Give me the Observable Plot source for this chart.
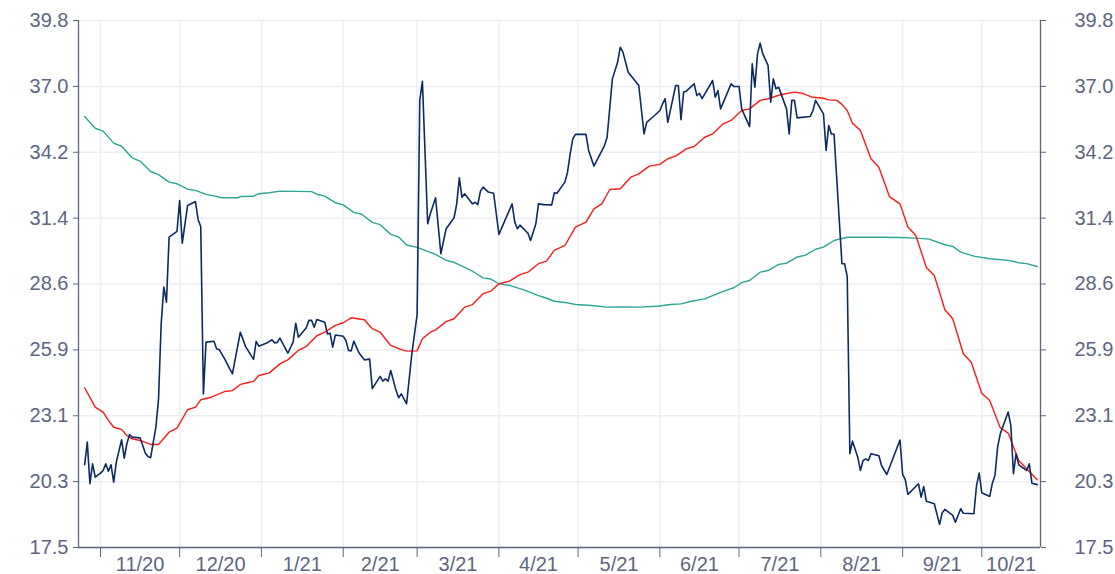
<!DOCTYPE html>
<html>
<head>
<meta charset="utf-8">
<script src="https://cdn.jsdelivr.net/npm/d3@7"></script>
<script src="https://cdn.jsdelivr.net/npm/@observablehq/plot@0.6"></script>
<style>
  html, body { margin: 0; padding: 0; background: #ffffff; }
  #chart { width: 1115px; height: 574px; overflow: hidden; }
</style>
</head>
<body>
<div id="chart"></div>
<script>
// ---- Data ----
const priceDates = ["2020-10-26","2020-10-27","2020-10-28","2020-10-29","2020-10-30","2020-11-01","2020-11-02","2020-11-03","2020-11-04","2020-11-05","2020-11-06","2020-11-07","2020-11-09","2020-11-10","2020-11-11","2020-11-12","2020-11-13","2020-11-16","2020-11-17","2020-11-18","2020-11-19","2020-11-20","2020-11-22","2020-11-23","2020-11-24","2020-11-25","2020-11-26","2020-11-27","2020-11-30","2020-12-01","2020-12-02","2020-12-04","2020-12-07","2020-12-08","2020-12-09","2020-12-10","2020-12-11","2020-12-14","2020-12-15","2020-12-16","2020-12-18","2020-12-21","2020-12-24","2020-12-26","2020-12-29","2020-12-30","2020-12-31","2021-01-03","2021-01-05","2021-01-06","2021-01-07","2021-01-08","2021-01-11","2021-01-13","2021-01-14","2021-01-15","2021-01-18","2021-01-19","2021-01-20","2021-01-21","2021-01-22","2021-01-25","2021-01-26","2021-01-27","2021-01-28","2021-01-29","2021-02-01","2021-02-02","2021-02-03","2021-02-04","2021-02-05","2021-02-07","2021-02-09","2021-02-11","2021-02-12","2021-02-15","2021-02-16","2021-02-17","2021-02-18","2021-02-19","2021-02-21","2021-02-22","2021-02-23","2021-02-25","2021-02-27","2021-03-01","2021-03-02","2021-03-03","2021-03-05","2021-03-06","2021-03-08","2021-03-10","2021-03-12","2021-03-15","2021-03-16","2021-03-17","2021-03-18","2021-03-19","2021-03-22","2021-03-23","2021-03-24","2021-03-25","2021-03-26","2021-03-28","2021-03-30","2021-04-01","2021-04-06","2021-04-07","2021-04-08","2021-04-09","2021-04-12","2021-04-13","2021-04-15","2021-04-16","2021-04-18","2021-04-21","2021-04-22","2021-04-23","2021-04-26","2021-04-27","2021-04-28","2021-04-29","2021-04-30","2021-05-04","2021-05-05","2021-05-07","2021-05-11","2021-05-12","2021-05-14","2021-05-16","2021-05-17","2021-05-18","2021-05-20","2021-05-24","2021-05-26","2021-05-27","2021-05-30","2021-06-01","2021-06-02","2021-06-03","2021-06-04","2021-06-07","2021-06-08","2021-06-09","2021-06-10","2021-06-11","2021-06-14","2021-06-15","2021-06-16","2021-06-17","2021-06-21","2021-06-22","2021-06-23","2021-06-24","2021-06-28","2021-06-29","2021-07-01","2021-07-02","2021-07-05","2021-07-06","2021-07-07","2021-07-08","2021-07-09","2021-07-10","2021-07-12","2021-07-13","2021-07-14","2021-07-15","2021-07-16","2021-07-19","2021-07-20","2021-07-21","2021-07-22","2021-07-23","2021-07-28","2021-07-29","2021-07-30","2021-08-02","2021-08-03","2021-08-04","2021-08-05","2021-08-06","2021-08-09","2021-08-10","2021-08-11","2021-08-12","2021-08-13","2021-08-15","2021-08-16","2021-08-17","2021-08-18","2021-08-19","2021-08-20","2021-08-23","2021-08-24","2021-08-26","2021-08-31","2021-09-01","2021-09-02","2021-09-03","2021-09-07","2021-09-08","2021-09-09","2021-09-10","2021-09-13","2021-09-15","2021-09-16","2021-09-17","2021-09-20","2021-09-21","2021-09-23","2021-09-24","2021-09-28","2021-09-29","2021-09-30","2021-10-01","2021-10-04","2021-10-05","2021-10-06","2021-10-07","2021-10-08","2021-10-11","2021-10-12","2021-10-13","2021-10-14","2021-10-15","2021-10-18","2021-10-19","2021-10-20","2021-10-22"];
const priceValues = [21.0,21.96,20.2,21.04,20.48,20.65,20.76,21.04,20.73,21.0,20.27,21.11,22.06,21.28,21.89,22.28,22.17,22.14,21.82,21.49,21.35,21.3,22.59,23.79,26.97,28.52,27.88,30.63,30.88,32.18,30.38,31.97,32.14,31.37,31.08,24.0,26.19,26.23,25.91,25.87,25.49,24.85,26.61,26.0,25.46,26.22,26.02,26.15,26.29,26.16,26.18,26.36,25.72,26.19,26.99,26.4,26.8,27.11,27.11,26.82,27.15,27.03,26.54,26.57,25.98,26.49,26.44,26.26,25.84,25.82,26.23,25.73,25.44,25.47,24.22,24.74,24.54,24.64,24.54,24.99,24.15,23.84,24.0,23.58,25.7,27.36,36.42,37.23,31.2,31.62,32.3,29.93,30.99,31.45,32.04,33.14,32.32,32.47,32.04,32.11,32.01,32.58,32.75,32.54,32.49,30.75,32.04,31.27,30.99,31.14,30.8,30.49,31.2,32.04,32.01,32.0,32.51,32.49,32.96,33.38,34.16,34.79,34.98,34.98,34.3,33.64,34.51,34.86,37.33,38.04,38.67,38.46,37.61,37.05,35.0,35.49,35.78,35.99,36.27,36.49,35.49,37.05,37.05,35.6,36.77,36.81,37.12,36.63,36.72,36.49,37.26,36.55,36.84,36.06,37.12,37.01,37.01,36.06,35.31,37.97,36.98,38.39,38.84,38.39,37.9,36.34,37.33,36.91,36.98,36.06,35.0,36.42,36.42,35.68,35.74,35.99,36.42,35.85,34.3,35.36,35.0,35.0,29.51,29.51,28.97,21.47,22.0,21.32,20.76,21.18,21.25,21.18,21.47,21.38,20.97,20.59,22.05,20.59,20.37,19.75,20.2,19.63,20.08,19.46,19.35,18.48,18.97,19.11,18.86,18.57,19.14,18.95,18.93,20.12,20.65,19.82,19.66,20.22,20.55,21.75,22.31,23.23,22.67,20.62,21.47,21.0,20.76,21.04,20.22,20.16];

const shortAvgDates = ["2020-10-26","2020-10-30","2020-11-02","2020-11-04","2020-11-06","2020-11-09","2020-11-11","2020-11-13","2020-11-16","2020-11-20","2020-11-23","2020-11-27","2020-11-30","2020-12-04","2020-12-07","2020-12-09","2020-12-13","2020-12-18","2020-12-21","2020-12-24","2020-12-27","2020-12-29","2020-12-31","2021-01-04","2021-01-08","2021-01-11","2021-01-15","2021-01-18","2021-01-22","2021-01-25","2021-01-29","2021-02-01","2021-02-04","2021-02-09","2021-02-12","2021-02-15","2021-02-19","2021-02-23","2021-02-25","2021-03-01","2021-03-03","2021-03-06","2021-03-08","2021-03-12","2021-03-15","2021-03-19","2021-03-22","2021-03-26","2021-03-29","2021-04-01","2021-04-05","2021-04-09","2021-04-12","2021-04-16","2021-04-19","2021-04-22","2021-04-26","2021-04-30","2021-05-04","2021-05-07","2021-05-10","2021-05-13","2021-05-17","2021-05-21","2021-05-24","2021-05-28","2021-06-01","2021-06-04","2021-06-07","2021-06-11","2021-06-14","2021-06-18","2021-06-21","2021-06-25","2021-06-28","2021-07-02","2021-07-05","2021-07-09","2021-07-12","2021-07-17","2021-07-22","2021-07-25","2021-07-29","2021-08-02","2021-08-04","2021-08-07","2021-08-09","2021-08-11","2021-08-13","2021-08-16","2021-08-20","2021-08-23","2021-08-27","2021-08-31","2021-09-03","2021-09-06","2021-09-10","2021-09-13","2021-09-15","2021-09-17","2021-09-20","2021-09-24","2021-09-27","2021-10-01","2021-10-04","2021-10-08","2021-10-11","2021-10-15","2021-10-18","2021-10-21","2021-10-22"];
const shortAvgValues = [24.26,23.44,23.23,22.88,22.59,22.5,22.24,22.1,22.03,21.86,21.86,22.38,22.55,23.33,23.44,23.75,23.86,24.1,24.14,24.4,24.48,24.53,24.78,24.89,25.27,25.44,25.84,26.01,26.46,26.61,26.9,27.01,27.22,27.14,26.76,26.61,26.05,25.87,25.81,25.82,26.33,26.61,26.71,27.06,27.18,27.67,27.78,28.24,28.35,28.66,28.77,29.05,29.15,29.51,29.62,30.07,30.28,31.06,31.27,31.83,32.04,32.65,32.68,33.17,33.31,33.64,33.71,33.95,34.06,34.37,34.47,34.86,35.0,35.43,35.57,35.99,36.06,36.42,36.49,36.67,36.77,36.72,36.55,36.51,36.44,36.42,36.25,35.99,35.45,35.15,33.95,33.59,32.35,32.04,31.06,30.7,29.35,29.01,28.3,27.56,27.18,25.7,25.34,24.03,23.72,22.57,22.34,21.18,20.83,20.48,20.37];

const longAvgDates = ["2020-10-26","2020-10-30","2020-11-02","2020-11-06","2020-11-09","2020-11-13","2020-11-16","2020-11-20","2020-11-23","2020-11-27","2020-11-30","2020-12-04","2020-12-07","2020-12-11","2020-12-14","2020-12-17","2020-12-23","2020-12-24","2020-12-29","2020-12-31","2021-01-04","2021-01-08","2021-01-20","2021-01-22","2021-01-25","2021-01-29","2021-02-01","2021-02-05","2021-02-08","2021-02-12","2021-02-15","2021-02-19","2021-02-22","2021-02-25","2021-03-01","2021-03-06","2021-03-08","2021-03-12","2021-03-15","2021-03-20","2021-03-22","2021-03-26","2021-03-29","2021-04-01","2021-04-05","2021-04-11","2021-04-16","2021-04-18","2021-04-22","2021-04-26","2021-04-30","2021-05-06","2021-05-12","2021-05-18","2021-05-24","2021-05-31","2021-06-05","2021-06-09","2021-06-13","2021-06-18","2021-06-21","2021-06-25","2021-06-29","2021-07-02","2021-07-05","2021-07-09","2021-07-12","2021-07-16","2021-07-19","2021-07-23","2021-07-26","2021-07-30","2021-08-02","2021-08-06","2021-08-08","2021-08-11","2021-08-23","2021-08-31","2021-09-06","2021-09-11","2021-09-17","2021-09-20","2021-09-23","2021-09-28","2021-10-04","2021-10-11","2021-10-15","2021-10-18","2021-10-22"];
const longAvgValues = [35.74,35.24,35.12,34.61,34.48,33.99,33.85,33.41,33.28,32.96,32.89,32.66,32.61,32.44,32.38,32.3,32.3,32.35,32.36,32.47,32.51,32.58,32.56,32.45,32.37,32.09,32.0,31.68,31.6,31.26,31.16,30.75,30.64,30.3,30.2,29.99,29.9,29.65,29.57,29.3,29.19,28.91,28.86,28.66,28.59,28.38,28.16,28.09,27.92,27.87,27.78,27.74,27.67,27.68,27.67,27.71,27.78,27.81,27.92,28.02,28.16,28.34,28.49,28.71,28.8,29.15,29.22,29.48,29.53,29.79,29.86,30.12,30.21,30.49,30.55,30.63,30.63,30.62,30.59,30.55,30.31,30.24,30.0,29.83,29.72,29.65,29.55,29.51,29.39];

const monthStarts = ["2020-11-01","2020-12-01","2021-01-01","2021-02-01","2021-03-01","2021-04-01","2021-05-01","2021-06-01","2021-07-01","2021-08-01","2021-09-01","2021-10-01"];
const monthLabels = ["11/20","12/20","1/21","2/21","3/21","4/21","5/21","6/21","7/21","8/21","9/21","10/21"];
const yTickValues = [17.5, 20.2875, 23.075, 25.8625, 28.65, 31.4375, 34.225, 37.0125, 39.8];
const yTickLabels = ["17.5","20.3","23.1","25.9","28.6","31.4","34.2","37.0","39.8"];
const xDomain = ["2020-10-23T16:00Z", "2021-10-23T06:00Z"];

// ---- Build tables ----
const toRows = (dates, values) => dates.map((d, i) => ({date: new Date(d), value: values[i]}));
const price = toRows(priceDates, priceValues);
const shortAvg = toRows(shortAvgDates, shortAvgValues);
const longAvg = toRows(longAvgDates, longAvgValues);
const xDom = xDomain.map(d => new Date(d));
const monthDates = monthStarts.map(d => new Date(d));
const labelRows = monthLabels.map((label, i) => {
  const a = monthDates[i];
  const b = i + 1 < monthDates.length ? monthDates[i + 1] : xDom[1];
  return {label, date: new Date((+a + +b) / 2)};
});
const yLabel = v => yTickLabels[yTickValues.indexOf(v)];

const axisColor = "#5e6580";
const gridColor = "#eceef5";

const chart = Plot.plot({
  width: 1115,
  height: 574,
  marginLeft: 78,
  marginRight: 75,
  marginTop: 20,
  marginBottom: 27,
  x: {type: "utc", domain: xDom},
  y: {domain: [17.5, 39.8]},
  style: {
    fontFamily: "'Liberation Sans', Arial, Helvetica, sans-serif",
    fontSize: "20px",
    color: axisColor,
    background: "#ffffff",
    overflow: "visible"
  },
  marks: [
    Plot.gridY(yTickValues, {stroke: gridColor, strokeOpacity: 1, strokeWidth: 1.5}),
    Plot.gridX(monthDates, {stroke: gridColor, strokeOpacity: 1, strokeWidth: 1.5}),
    Plot.axisY(yTickValues, {anchor: "left", tickSize: 5, tickPadding: 5, tickFormat: yLabel, label: null, fontSize: 20}),
    Plot.axisY(yTickValues, {anchor: "right", tickSize: 5, tickPadding: 29, tickFormat: yLabel, textAnchor: "start", label: null, fontSize: 20}),
    Plot.axisX(monthDates, {tickSize: 10, tickFormat: () => "", label: null}),
    Plot.ruleX(xDom, {stroke: axisColor, strokeWidth: 1.3}),
    Plot.ruleY([17.5], {stroke: axisColor, strokeWidth: 1.3}),
    Plot.text(labelRows, {x: "date", y: () => 17.5, text: "label", dy: 17, lineAnchor: "middle", fontSize: 20, fill: axisColor}),
    Plot.line(longAvg, {x: "date", y: "value", stroke: "#2aa596", strokeWidth: 1.4}),
    Plot.line(shortAvg, {x: "date", y: "value", stroke: "#ff1a1a", strokeWidth: 1.4}),
    Plot.line(price, {x: "date", y: "value", stroke: "#0c2b60", strokeWidth: 1.6})
  ]
});
document.getElementById("chart").appendChild(chart);
</script>
</body>
</html>
